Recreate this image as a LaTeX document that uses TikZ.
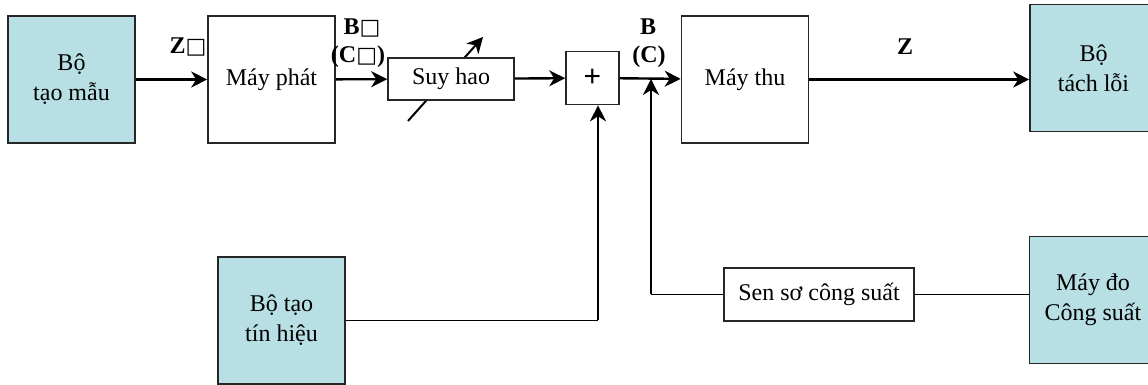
\documentclass[tikz,border=0pt]{standalone}
\usepackage{fontspec}
\setmainfont{Liberation Serif}
\newfontfamily\boxsym{DejaVu Sans}
\newfontfamily\plusfont{Liberation Sans}
\usetikzlibrary{arrows.meta}
\definecolor{tealbox}{RGB}{184,223,227}
\newcommand{\sq}{{\boxsym\fontsize{11}{11}\selectfont\symbol{"25A1}}}
\tikzset{
  blk/.style={draw=black!85, line width=.8pt, fill=tealbox, minimum width=63.5pt, minimum height=63.5pt, align=center, font=\fontsize{12}{15}\selectfont},
  wblk/.style={blk, fill=white},
  sig/.style={line width=1.2pt, -{Stealth[length=8pt,width=8pt,inset=2.5pt]}},
  lbl/.style={font=\bfseries\fontsize{12}{14}\selectfont}
}
\begin{document}
\begin{tikzpicture}[x=.5pt, y=-.5pt]
\useasboundingbox (0,0) rectangle (1148,385);
\draw [sig, line width=1pt] (408,121) -- (483,37);
\node [blk] (mau) at (71.5,79.5) {Bộ\\tạo mẫu};
\node [wblk] (phat) at (271.5,79.5) {Máy phát};
\node [wblk, minimum width=63pt, minimum height=21pt] (suyhao) at (451,79) {Suy hao};
\node [wblk, minimum width=26.5pt, minimum height=26.5pt, font=\plusfont\fontsize{15}{15}\selectfont] (cong) at (592.5,78) {+};
\node [wblk] (thu) at (745,79.5) {Máy thu};
\node [blk] (tachloi) at (1093.5,68) {Bộ\\tách lỗi};
\node [blk] (tinhieu) at (281.5,320.5) {Bộ tạo\\tín hiệu};
\node [wblk, minimum width=95pt, minimum height=26.5pt] (sensor) at (819,294.5) {Sen sơ công suất};
\node [blk] (maydo) at (1093,300) {Máy đo\\Công suất};
\coordinate (join) at (651,79);
\coordinate (tap) at ([xshift=2.75pt]cong.south);
\draw [sig] (mau) -- (phat);
\draw [sig] (phat) -- (suyhao);
\draw [sig] (suyhao) -- (cong);
\draw [sig] (cong) -- (thu);
\draw [sig] (thu.east) -- (tachloi.west |- thu.east);
\draw [line width=.8pt] (tinhieu.east) -- (tinhieu.east -| tap);
\draw [sig] (tinhieu.east -| tap) -- (tap);
\draw [line width=.8pt] (sensor.east) -- (sensor.east -| maydo.west);
\draw [line width=.8pt] (sensor.west) -- (sensor.west -| join);
\draw [sig] (sensor.west -| join) -- (join);
\node [lbl] (zin) at (188,47) {Z\sq};
\node [lbl] (bin) at (362,28) {B\sq};
\node [lbl] (cin) at (358,57) {(C\sq)};
\node [lbl] (bout) at (648,27) {B};
\node [lbl] (cout) at (649,57) {(C)};
\node [lbl] (zout) at (905,47) {Z};
\end{tikzpicture}
\end{document}
